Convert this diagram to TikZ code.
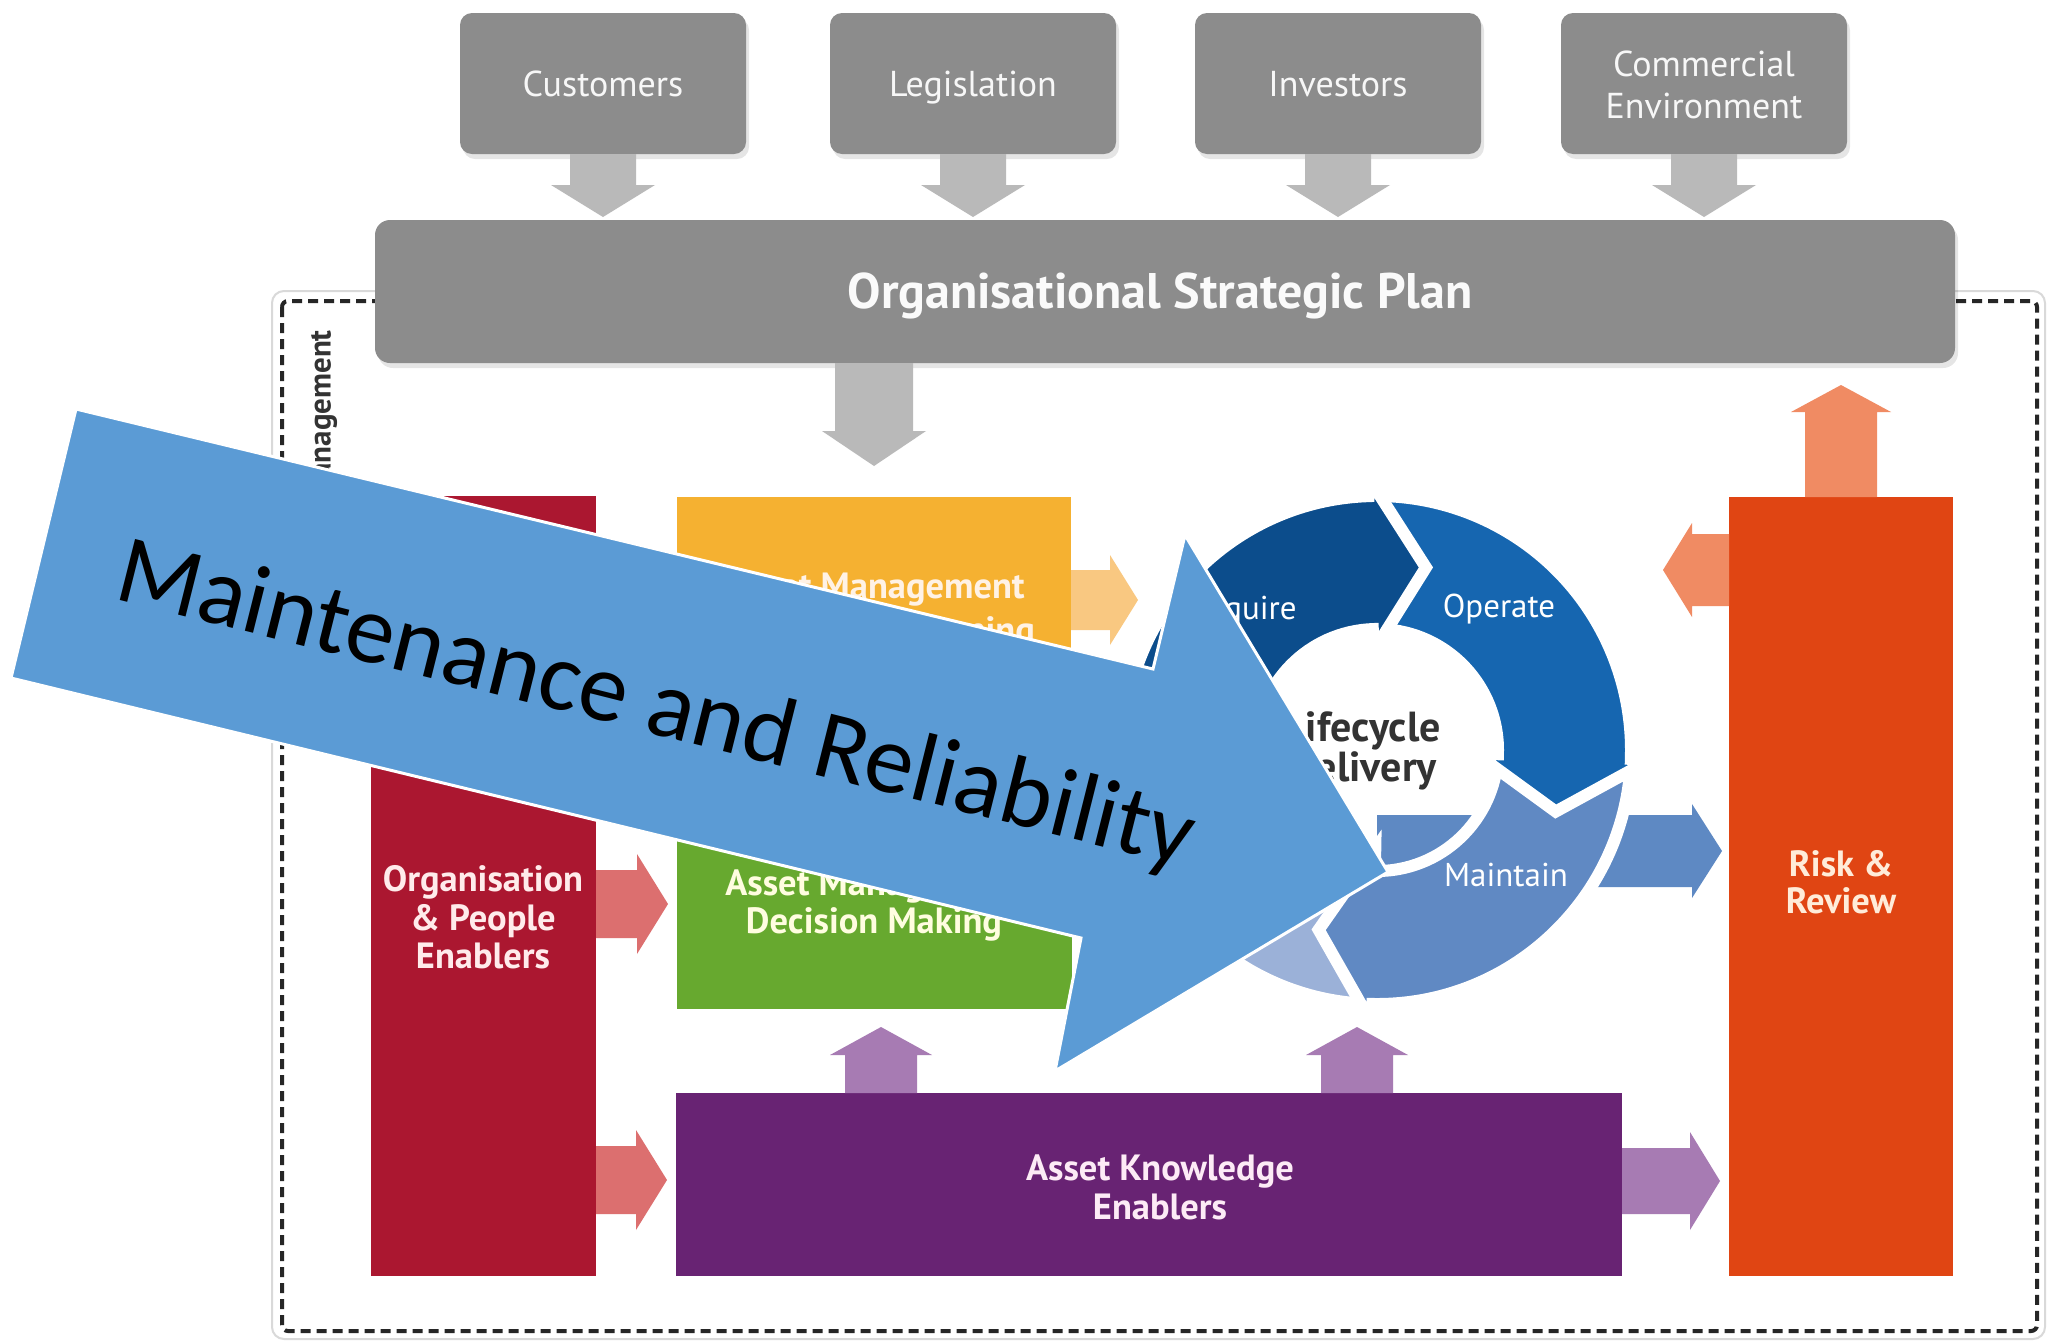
\documentclass[tikz,border=0pt]{standalone}
\usepackage{fontspec}
\setmainfont{PT Sans}
\newfontfamily\ovfont{Carlito}
\usetikzlibrary{calc}
\definecolor{boxgray}{HTML}{8C8C8C}
\definecolor{arrgray}{HTML}{B9B9B9}
\definecolor{cred}{HTML}{AB1730}
\definecolor{corange}{HTML}{F5B131}
\definecolor{cgreen}{HTML}{67A92F}
\definecolor{cpurple}{HTML}{682373}
\definecolor{crisk}{HTML}{E04513}
\definecolor{apink}{HTML}{DC6F6F}
\definecolor{apurple}{HTML}{A77BB3}
\definecolor{arisk}{HTML}{F08B63}
\definecolor{ablue}{HTML}{5E89C3}
\definecolor{aorange}{HTML}{F9C881}
\definecolor{racq}{HTML}{0C4D8C}
\definecolor{rope}{HTML}{1666B0}
\definecolor{rmai}{HTML}{6089C3}
\definecolor{rdis}{HTML}{9BB1D8}
\definecolor{ovblue}{HTML}{5B9BD5}
\definecolor{frameink}{HTML}{262626}
\definecolor{darktext}{HTML}{333333}

% block arrow: #1 colour, #2 start, #3 tip, #4 half shaft, #5 half head, #6 head length
\newcommand\blockarr[6]{%
  \coordinate (bahead) at ($(#3)!#6!(#2)$);
  \fill[#1] ($(#2)!#4!90:(#3)$) -- ($(bahead)!#4!90:(#3)$) -- ($(bahead)!#5!90:(#3)$)
    -- (#3) -- ($(bahead)!#5!-90:(#3)$) -- ($(bahead)!#4!-90:(#3)$) -- ($(#2)!#4!-90:(#3)$) -- cycle;}

% ring segment: #1 colour, #2 tail angle, #3 head back angle
\newcommand\ringseg[3]{%
  \filldraw[fill=#1, draw=white, line width=12pt, line join=miter, miter limit=20]
    (#2:254) arc[start angle=#2, end angle=#3, radius=254]
    -- (#3:274) -- ({#3-17}:189) -- (#3:99) -- (#3:121)
    arc[start angle=#3, end angle=#2, radius=121] -- cycle;}

\begin{document}
\begin{tikzpicture}[x=1pt,y=-1pt,
  shadowed/.style={preaction={fill=black, opacity=0.10, transform canvas={xshift=3pt, yshift=-5pt}}},
  gbox/.style={shadowed, fill=boxgray, rounded corners=12pt, minimum width=286pt, minimum height=141pt, inner sep=0pt},
  toplbl/.style={inner sep=0pt, anchor=base, text=white!94!gray, font=\fontsize{36}{42}\selectfont},
  flat/.style={inner sep=0pt, outer sep=0pt},
  boxlbl/.style={inner sep=0pt, anchor=base, font=\bfseries\fontsize{36.5}{40}\selectfont},
  ringlbl/.style={inner sep=0pt, anchor=base, text=white, font=\fontsize{33}{36}\selectfont},
  lcdlbl/.style={inner sep=0pt, anchor=base east, text=darktext, font=\bfseries\fontsize{42}{46}\selectfont},
]
\useasboundingbox (0,0) rectangle (2048,1342);
\fill[white] (0,0) rectangle (2048,1342);

% frames
\draw[black!15, line width=2pt, rounded corners=12pt] (272,291) rectangle (2045,1339);
\draw[frameink, line width=4pt, dash pattern=on 10pt off 6pt, rounded corners=6pt] (282,301) rectangle (2037,1331);

% top boxes
\node[gbox] (cust) at (603,83.5) {};
\node[gbox] (legis) at (973,83.5) {};
\node[gbox] (invest) at (1338,83.5) {};
\node[gbox] (comm) at (1704,83.5) {};
\node[toplbl] (custt) at (603,96) {Customers};
\node[toplbl] (legist) at (973,96) {Legislation};
\node[toplbl] (investt) at (1338,96) {Investors};
\node[toplbl] (commt1) at (1704,76) {Commercial};
\node[toplbl] (commt2) at (1704,118) {Environment};

\coordinate (gtipy) at (0,217);
\foreach \n in {cust,legis,invest,comm}{
  \coordinate (\n-tip) at (\n.south |- gtipy);
  \blockarr{arrgray}{\n.south}{\n-tip}{33pt}{52pt}{32pt}
}

% strategic plan
\node[shadowed, fill=boxgray, rounded corners=15pt, minimum width=1580pt, minimum height=143pt, inner sep=0pt] (osp) at (1165,291.5) {};
\node[inner sep=0pt, anchor=base, text=white!96!gray, font=\bfseries\fontsize{50}{56}\selectfont] (ospt) at (1160,308) {Organisational Strategic Plan};

% side label
\node[rotate=90, anchor=east, inner sep=0pt, text=darktext, font=\bfseries\fontsize{31}{34}\selectfont] (amlbl) at (323,330) {Asset Management};

% main boxes
\node[flat, fill=cred, minimum width=225pt, minimum height=780pt] (orgp) at (483.5,886) {};
\node[boxlbl, text=white!92!red] (orgpt1) at (483,891) {Organisation};
\node[boxlbl, text=white!92!red] (orgpt2) at (483,930) {\& People};
\node[boxlbl, text=white!92!red] (orgpt3) at (483,968) {Enablers};

\node[flat, fill=corange, minimum width=394pt, minimum height=209pt] (amsp) at (874,601.5) {};
\node[boxlbl, text=white!90!orange] (amspt1) at (876,598) {Asset Management};
\node[boxlbl, text=white!90!orange] (amspt2) at (876,642) {Strategy \& Planning};

\node[flat, fill=cgreen, minimum width=395pt, minimum height=210pt] (amdm) at (874.5,904) {};
\node[boxlbl, text=white!88!yellow] (amdmt1) at (874,895) {Asset Management};
\node[boxlbl, text=white!88!yellow] (amdmt2) at (874,933) {Decision Making};

\node[flat, fill=cpurple, minimum width=946pt, minimum height=183pt] (ake) at (1149,1184.5) {};
\node[boxlbl, text=white!92!magenta] (aket1) at (1160,1180) {Asset Knowledge};
\node[boxlbl, text=white!92!magenta] (aket2) at (1160,1219) {Enablers};

\node[flat, fill=crisk, minimum width=224pt, minimum height=779pt] (risk) at (1841,886.5) {};
\node[boxlbl, text=white!85!orange] (riskt1) at (1841,876) {Risk \&};
\node[boxlbl, text=white!85!orange] (riskt2) at (1841,913) {Review};

% connectors (block arrows)
\coordinate (ospA) at (amsp.north |- osp.south);
\coordinate (ospB) at ($(amsp.north)+(0,-31)$);
\blockarr{arrgray}{ospA}{ospB}{39pt}{52pt}{35pt}

\coordinate (p1y) at (0,904);
\coordinate (p1A) at (orgp.east |- p1y);
\coordinate (p1B) at ($(amdm.west |- p1y)+(-9,0)$);
\blockarr{apink}{p1A}{p1B}{34pt}{50pt}{31pt}

\coordinate (p2y) at (0,1180);
\coordinate (p2A) at (orgp.east |- p2y);
\coordinate (p2B) at ($(ake.west |- p2y)+(-9,0)$);
\blockarr{apink}{p2A}{p2B}{34pt}{50pt}{31pt}

\coordinate (p3y) at (0,1181);
\coordinate (p3A) at (ake.east |- p3y);
\coordinate (p3B) at ($(risk.west |- p3y)+(-9,0)$);
\blockarr{apurple}{p3A}{p3B}{33pt}{49pt}{30pt}

\coordinate (ruB) at (risk.north |- 0,385);
\blockarr{arisk}{risk.north}{ruB}{36pt}{50pt}{27pt}

\coordinate (rly) at (0,570);
\coordinate (rlA) at (risk.west |- rly);
\coordinate (rlB) at ($(rlA)+(-66,0)$);
\blockarr{arisk}{rlA}{rlB}{36pt}{47pt}{29pt}

\coordinate (cyc) at (1377,750);
\coordinate (bly) at (0,851);
\coordinate (blA) at (cyc |- bly);
\coordinate (blB) at ($(risk.west |- bly)+(-7,0)$);
\blockarr{ablue}{blA}{blB}{36pt}{47pt}{30pt}

\coordinate (oay) at (0,600);
\coordinate (oaA) at (amsp.east |- oay);
\coordinate (oaB) at ($(oaA)+(67,0)$);
\blockarr{aorange}{oaA}{oaB}{30pt}{45pt}{28pt}

% lifecycle ring
\begin{scope}[shift={(cyc)}, y=1pt]
  \ringseg{rdis}{-91}{-181}
  \ringseg{rmai}{-2}{-91}
  \ringseg{rope}{92}{-2}
  \ringseg{racq}{179}{92}
\end{scope}
\node[ringlbl] (acq) at (1244,619) {Acquire};
\node[ringlbl] (ope) at (1499,617) {Operate};
\node[ringlbl] (mai) at (1506,886) {Maintain};
\node[lcdlbl] (lcd1) at (1441,741) {Lifecycle};
\node[lcdlbl] (lcd2) at (1437,781) {Delivery};

% knowledge arrows up (drawn over the ring)
\coordinate (puy) at (0,1027);
\coordinate (pu1x) at (881,0);
\coordinate (pu1A) at (pu1x |- ake.north);
\coordinate (pu1B) at (pu1x |- puy);
\blockarr{apurple}{pu1A}{pu1B}{36pt}{51pt}{28pt}
\coordinate (pu2x) at (1357,0);
\coordinate (pu2A) at (pu2x |- ake.north);
\coordinate (pu2B) at (pu2x |- puy);
\blockarr{apurple}{pu2A}{pu2B}{36pt}{51pt}{28pt}

% overlay arrow
\filldraw[fill=ovblue, draw=white, line width=3pt, line join=miter]
  (76,409) -- (1153,669) -- (1185,535) -- (1388,872) -- (1055,1071) -- (1081,938) -- (11,678) -- cycle;
\node[rotate=-14.1, anchor=base west, inner sep=0pt, text=black, font=\ovfont\fontsize{98}{118}\selectfont] (mr) at (112,598) {Maintenance and Reliability};
\end{tikzpicture}
\end{document}
